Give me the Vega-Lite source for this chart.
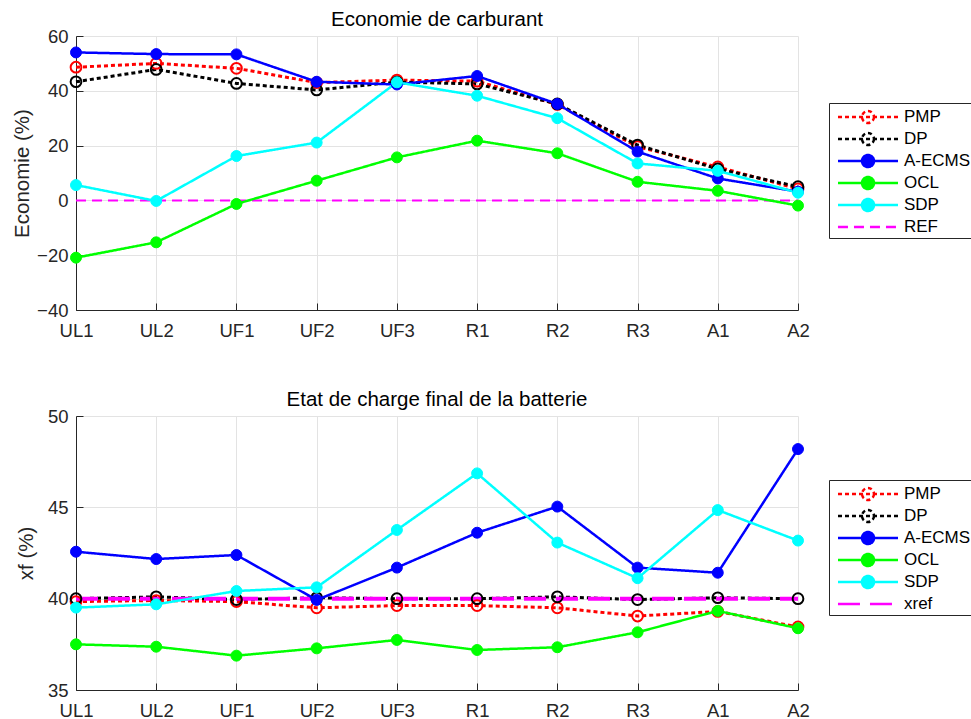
{
"$schema":"https://vega.github.io/schema/vega-lite/v6.json",
"background":"white",
"padding":{"left":12,"top":9,"right":0,"bottom":5},
"spacing":49,
"config":{
 "font":"Liberation Sans",
 "view":{"stroke":null},
 "axis":{"labelFont":"Liberation Sans","labelFontSize":18.5,"labelColor":"#262626","titleFont":"Liberation Sans","titleFontSize":20.5,"titleFontWeight":"normal","titleColor":"#262626","domainColor":"#262626","domainWidth":1,"tickColor":"#262626","tickSize":-7,"gridColor":"#e3e3e3","titlePadding":4},
 "axisX":{"labelPadding":18},
 "axisY":{"labelPadding":15},
 "title":{"font":"Liberation Sans","fontSize":20.5,"fontWeight":"normal","color":"#000000","offset":-3,"anchor":"middle"},
 "legend":{"padding":3,"strokeColor":"#262626","fillColor":"white","labelFont":"Liberation Sans","labelFontSize":17,"labelColor":"#000000","symbolSize":361,"symbolOffset":25,"labelOffset":25,"rowPadding":0,"symbolStrokeWidth":2.5}
},
"datasets":{
 "eco":[
  {"cas":"UL1","serie":"PMP","val":48.6},{"cas":"UL2","serie":"PMP","val":50.0},{"cas":"UF1","serie":"PMP","val":48.2},{"cas":"UF2","serie":"PMP","val":43.0},{"cas":"UF3","serie":"PMP","val":43.9},{"cas":"R1","serie":"PMP","val":43.5},{"cas":"R2","serie":"PMP","val":35.0},{"cas":"R3","serie":"PMP","val":19.6},{"cas":"A1","serie":"PMP","val":12.2},{"cas":"A2","serie":"PMP","val":4.2},
  {"cas":"UL1","serie":"DP","val":43.3},{"cas":"UL2","serie":"DP","val":47.8},{"cas":"UF1","serie":"DP","val":42.7},{"cas":"UF2","serie":"DP","val":40.3},{"cas":"UF3","serie":"DP","val":43.2},{"cas":"R1","serie":"DP","val":42.5},{"cas":"R2","serie":"DP","val":35.2},{"cas":"R3","serie":"DP","val":20.2},{"cas":"A1","serie":"DP","val":11.5},{"cas":"A2","serie":"DP","val":5.0},
  {"cas":"UL1","serie":"A-ECMS","val":54.0},{"cas":"UL2","serie":"A-ECMS","val":53.4},{"cas":"UF1","serie":"A-ECMS","val":53.3},{"cas":"UF2","serie":"A-ECMS","val":43.3},{"cas":"UF3","serie":"A-ECMS","val":42.3},{"cas":"R1","serie":"A-ECMS","val":45.4},{"cas":"R2","serie":"A-ECMS","val":35.2},{"cas":"R3","serie":"A-ECMS","val":17.8},{"cas":"A1","serie":"A-ECMS","val":8.0},{"cas":"A2","serie":"A-ECMS","val":3.2},
  {"cas":"UL1","serie":"OCL","val":-20.9},{"cas":"UL2","serie":"OCL","val":-15.3},{"cas":"UF1","serie":"OCL","val":-1.3},{"cas":"UF2","serie":"OCL","val":7.2},{"cas":"UF3","serie":"OCL","val":15.7},{"cas":"R1","serie":"OCL","val":21.8},{"cas":"R2","serie":"OCL","val":17.2},{"cas":"R3","serie":"OCL","val":6.8},{"cas":"A1","serie":"OCL","val":3.5},{"cas":"A2","serie":"OCL","val":-1.9},
  {"cas":"UL1","serie":"SDP","val":5.6},{"cas":"UL2","serie":"SDP","val":-0.2},{"cas":"UF1","serie":"SDP","val":16.2},{"cas":"UF2","serie":"SDP","val":21.1},{"cas":"UF3","serie":"SDP","val":43.1},{"cas":"R1","serie":"SDP","val":38.2},{"cas":"R2","serie":"SDP","val":30.0},{"cas":"R3","serie":"SDP","val":13.5},{"cas":"A1","serie":"SDP","val":10.8},{"cas":"A2","serie":"SDP","val":2.8},
  {"cas":"UL1","serie":"REF","val":0},{"cas":"UL2","serie":"REF","val":0},{"cas":"UF1","serie":"REF","val":0},{"cas":"UF2","serie":"REF","val":0},{"cas":"UF3","serie":"REF","val":0},{"cas":"R1","serie":"REF","val":0},{"cas":"R2","serie":"REF","val":0},{"cas":"R3","serie":"REF","val":0},{"cas":"A1","serie":"REF","val":0},{"cas":"A2","serie":"REF","val":0}
 ],
 "soc":[
  {"cas":"UL1","serie":"PMP","val":39.84},{"cas":"UL2","serie":"PMP","val":39.9},{"cas":"UF1","serie":"PMP","val":39.84},{"cas":"UF2","serie":"PMP","val":39.5},{"cas":"UF3","serie":"PMP","val":39.62},{"cas":"R1","serie":"PMP","val":39.62},{"cas":"R2","serie":"PMP","val":39.5},{"cas":"R3","serie":"PMP","val":39.05},{"cas":"A1","serie":"PMP","val":39.3},{"cas":"A2","serie":"PMP","val":38.45},
  {"cas":"UL1","serie":"DP","val":40.0},{"cas":"UL2","serie":"DP","val":40.1},{"cas":"UF1","serie":"DP","val":39.95},{"cas":"UF2","serie":"DP","val":40.05},{"cas":"UF3","serie":"DP","val":40.0},{"cas":"R1","serie":"DP","val":40.0},{"cas":"R2","serie":"DP","val":40.1},{"cas":"R3","serie":"DP","val":39.95},{"cas":"A1","serie":"DP","val":40.05},{"cas":"A2","serie":"DP","val":40.0},
  {"cas":"UL1","serie":"A-ECMS","val":42.57},{"cas":"UL2","serie":"A-ECMS","val":42.17},{"cas":"UF1","serie":"A-ECMS","val":42.39},{"cas":"UF2","serie":"A-ECMS","val":39.93},{"cas":"UF3","serie":"A-ECMS","val":41.7},{"cas":"R1","serie":"A-ECMS","val":43.61},{"cas":"R2","serie":"A-ECMS","val":45.04},{"cas":"R3","serie":"A-ECMS","val":41.7},{"cas":"A1","serie":"A-ECMS","val":41.42},{"cas":"A2","serie":"A-ECMS","val":48.19},
  {"cas":"UL1","serie":"OCL","val":37.5},{"cas":"UL2","serie":"OCL","val":37.37},{"cas":"UF1","serie":"OCL","val":36.88},{"cas":"UF2","serie":"OCL","val":37.28},{"cas":"UF3","serie":"OCL","val":37.74},{"cas":"R1","serie":"OCL","val":37.19},{"cas":"R2","serie":"OCL","val":37.34},{"cas":"R3","serie":"OCL","val":38.16},{"cas":"A1","serie":"OCL","val":39.33},{"cas":"A2","serie":"OCL","val":38.38},
  {"cas":"UL1","serie":"SDP","val":39.51},{"cas":"UL2","serie":"SDP","val":39.69},{"cas":"UF1","serie":"SDP","val":40.42},{"cas":"UF2","serie":"SDP","val":40.62},{"cas":"UF3","serie":"SDP","val":43.76},{"cas":"R1","serie":"SDP","val":46.86},{"cas":"R2","serie":"SDP","val":43.07},{"cas":"R3","serie":"SDP","val":41.12},{"cas":"A1","serie":"SDP","val":44.85},{"cas":"A2","serie":"SDP","val":43.18},
  {"cas":"UL1","serie":"xref","val":40},{"cas":"UL2","serie":"xref","val":40},{"cas":"UF1","serie":"xref","val":40},{"cas":"UF2","serie":"xref","val":40},{"cas":"UF3","serie":"xref","val":40},{"cas":"R1","serie":"xref","val":40},{"cas":"R2","serie":"xref","val":40},{"cas":"R3","serie":"xref","val":40},{"cas":"A1","serie":"xref","val":40},{"cas":"A2","serie":"xref","val":40}
 ]
},
"resolve":{"scale":{"x":"independent","y":"independent","stroke":"independent","fill":"independent","strokeDash":"independent","shape":"independent","strokeWidth":"independent"},"legend":{"stroke":"independent","fill":"independent","strokeDash":"independent","shape":"independent","strokeWidth":"independent"}},
"vconcat":[
 {
  "data":{"name":"eco"},
  "title":{"text":"Economie de carburant"},
  "width":722,"height":274,
  "encoding":{
   "x":{"field":"cas","type":"nominal","scale":{"type":"point","padding":0,"domain":["UL1","UL2","UF1","UF2","UF3","R1","R2","R3","A1","A2"]},"axis":{"title":null,"labelAngle":0,"grid":true}},
   "y":{"field":"val","type":"quantitative","scale":{"domain":[-40,60],"nice":false,"zero":false},"axis":{"title":"Economie (%)","values":[-40,-20,0,20,40,60],"grid":true}}
  },
  "layer":[
   {"transform":[{"filter":"datum.serie==='REF'"}],"mark":{"type":"line","strokeWidth":2},
    "encoding":{"stroke":{"field":"serie","type":"nominal","scale":{"domain":["PMP","DP","A-ECMS","OCL","SDP","REF"],"range":["#ff0000","#000000","#0000ff","#00ff00","#00ffff","#ff00ff"]},"legend":{"title":null,"orient":"none","legendX":753,"legendY":67}},
     "strokeDash":{"field":"serie","type":"nominal","scale":{"domain":["PMP","DP","A-ECMS","OCL","SDP","REF"],"range":[[4,3],[4,3],[1,0],[1,0],[1,0],[10,6]]},"legend":{"title":null,"orient":"none","legendX":753,"legendY":67}}}},
   {"transform":[{"filter":"datum.serie==='PMP'||datum.serie==='DP'"}],"mark":{"type":"line","strokeWidth":3},
    "encoding":{"stroke":{"field":"serie","type":"nominal"},"strokeDash":{"field":"serie","type":"nominal"}}},
   {"transform":[{"filter":"datum.serie==='PMP'||datum.serie==='DP'"}],"mark":{"type":"point","shape":"circle","size":115,"strokeWidth":2,"opacity":1},
    "encoding":{"stroke":{"field":"serie","type":"nominal"},"fill":{"field":"serie","type":"nominal","scale":{"domain":["PMP","DP","A-ECMS","OCL","SDP","REF"],"range":["transparent","transparent","#0000ff","#00ff00","#00ffff","transparent"]},"legend":{"title":null,"orient":"none","legendX":753,"legendY":67}}}},
   {"transform":[{"filter":"datum.serie==='A-ECMS'||datum.serie==='OCL'||datum.serie==='SDP'"}],"mark":{"type":"line","strokeWidth":2.5},
    "encoding":{"stroke":{"field":"serie","type":"nominal"},"strokeDash":{"field":"serie","type":"nominal"}}},
   {"transform":[{"filter":"datum.serie==='A-ECMS'||datum.serie==='OCL'||datum.serie==='SDP'"}],"mark":{"type":"point","shape":"circle","size":120,"strokeWidth":1,"opacity":1},
    "encoding":{"stroke":{"field":"serie","type":"nominal"},"fill":{"field":"serie","type":"nominal"}}},
   {"transform":[{"filter":"false"}],"mark":{"type":"point"},
    "encoding":{"shape":{"field":"serie","type":"nominal","scale":{"domain":["PMP","DP","A-ECMS","OCL","SDP","REF"],"range":["M-3.16,0H3.16M0.63,0A0.63,0.63,0,1,1,-0.63,0A0.63,0.63,0,1,1,0.63,0","M-3.16,0H3.16M0.63,0A0.63,0.63,0,1,1,-0.63,0A0.63,0.63,0,1,1,0.63,0","M-3.16,0H3.16M0.63,0A0.63,0.63,0,1,1,-0.63,0A0.63,0.63,0,1,1,0.63,0","M-3.16,0H3.16M0.63,0A0.63,0.63,0,1,1,-0.63,0A0.63,0.63,0,1,1,0.63,0","M-3.16,0H3.16M0.63,0A0.63,0.63,0,1,1,-0.63,0A0.63,0.63,0,1,1,0.63,0","M-3.16,0H3.16"]},"legend":{"title":null,"orient":"none","legendX":753,"legendY":67}}}}
  ]
 },
 {
  "data":{"name":"soc"},
  "title":{"text":"Etat de charge final de la batterie"},
  "width":722,"height":274,
  "encoding":{
   "x":{"field":"cas","type":"nominal","scale":{"type":"point","padding":0,"domain":["UL1","UL2","UF1","UF2","UF3","R1","R2","R3","A1","A2"]},"axis":{"title":null,"labelAngle":0,"grid":true}},
   "y":{"field":"val","type":"quantitative","scale":{"domain":[35,50],"nice":false,"zero":false},"axis":{"title":"xf (%)","values":[35,40,45,50],"grid":true,"titlePadding":11}}
  },
  "layer":[
   {"transform":[{"filter":"datum.serie==='PMP'||datum.serie==='DP'"}],"mark":{"type":"line","strokeWidth":3},
    "encoding":{"stroke":{"field":"serie","type":"nominal","scale":{"domain":["PMP","DP","A-ECMS","OCL","SDP","xref"],"range":["#ff0000","#000000","#0000ff","#00ff00","#00ffff","#ff00ff"]},"legend":{"title":null,"orient":"none","legendX":753,"legendY":64}},
     "strokeDash":{"field":"serie","type":"nominal","scale":{"domain":["PMP","DP","A-ECMS","OCL","SDP","xref"],"range":[[4,3],[4,3],[1,0],[1,0],[1,0],[22,10]]},"legend":{"title":null,"orient":"none","legendX":753,"legendY":64}}}},
   {"transform":[{"filter":"datum.serie==='xref'"}],"mark":{"type":"line","strokeWidth":4},
    "encoding":{"stroke":{"field":"serie","type":"nominal"},"strokeDash":{"field":"serie","type":"nominal"}}},
   {"transform":[{"filter":"datum.serie==='PMP'||datum.serie==='DP'"}],"mark":{"type":"point","shape":"circle","size":115,"strokeWidth":2,"opacity":1},
    "encoding":{"stroke":{"field":"serie","type":"nominal"},"fill":{"field":"serie","type":"nominal","scale":{"domain":["PMP","DP","A-ECMS","OCL","SDP","xref"],"range":["transparent","transparent","#0000ff","#00ff00","#00ffff","transparent"]},"legend":{"title":null,"orient":"none","legendX":753,"legendY":64}}}},
   {"transform":[{"filter":"datum.serie==='A-ECMS'||datum.serie==='OCL'||datum.serie==='SDP'"}],"mark":{"type":"line","strokeWidth":2.5},
    "encoding":{"stroke":{"field":"serie","type":"nominal"},"strokeDash":{"field":"serie","type":"nominal"}}},
   {"transform":[{"filter":"datum.serie==='A-ECMS'||datum.serie==='OCL'||datum.serie==='SDP'"}],"mark":{"type":"point","shape":"circle","size":120,"strokeWidth":1,"opacity":1},
    "encoding":{"stroke":{"field":"serie","type":"nominal"},"fill":{"field":"serie","type":"nominal"}}},
   {"transform":[{"filter":"false"}],"mark":{"type":"point"},
    "encoding":{"shape":{"field":"serie","type":"nominal","scale":{"domain":["PMP","DP","A-ECMS","OCL","SDP","xref"],"range":["M-3.16,0H3.16M0.63,0A0.63,0.63,0,1,1,-0.63,0A0.63,0.63,0,1,1,0.63,0","M-3.16,0H3.16M0.63,0A0.63,0.63,0,1,1,-0.63,0A0.63,0.63,0,1,1,0.63,0","M-3.16,0H3.16M0.63,0A0.63,0.63,0,1,1,-0.63,0A0.63,0.63,0,1,1,0.63,0","M-3.16,0H3.16M0.63,0A0.63,0.63,0,1,1,-0.63,0A0.63,0.63,0,1,1,0.63,0","M-3.16,0H3.16M0.63,0A0.63,0.63,0,1,1,-0.63,0A0.63,0.63,0,1,1,0.63,0","M-3.16,0H3.16"]},"legend":{"title":null,"orient":"none","legendX":753,"legendY":64}}}}
  ]
 }
]
}
